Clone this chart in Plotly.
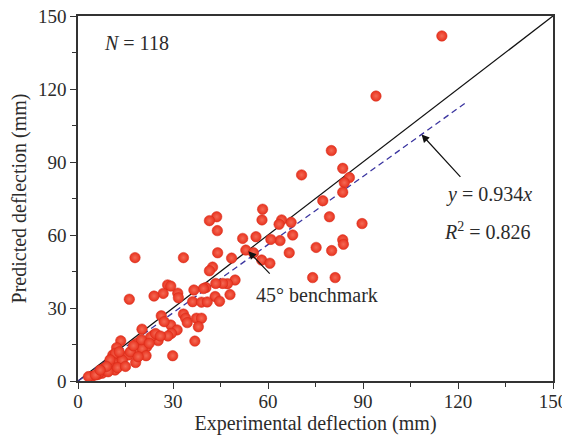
import plotly.graph_objects as go

# Experimental vs predicted deflection (mm)
exp_x = [114.9, 94.1, 80.0, 70.6, 83.6, 85.7, 84.1, 83.6, 77.3, 79.4, 89.7, 58.3, 58.1, 64.3, 63.5,
         67.3, 67.8, 63.8, 60.9, 56.2, 52.0, 66.7, 75.2, 80.1, 83.6, 83.8, 53.0, 55.4, 58.0, 60.6,
         48.5, 49.6, 74.1, 81.2, 43.8, 41.5, 44.0, 44.1, 33.3, 18.0, 42.5, 41.5, 47.2, 45.7, 43.5,
         48.0, 43.3, 44.7, 40.4, 39.6, 36.6, 36.2, 39.0, 40.8, 31.5, 31.7, 28.3, 29.3, 26.9, 24.0,
         16.2, 26.3, 33.3, 34.0, 34.5, 37.4, 39.0, 38.0, 36.9, 29.9, 29.3, 27.2, 31.3, 29.5, 28.4,
         25.3, 23.9, 22.9, 20.2, 21.7, 18.6, 19.8, 19.0, 20.3, 21.5, 18.2, 15.9, 13.5, 12.2, 11.0,
         11.8, 13.3, 11.2, 10.3, 11.7, 8.5, 7.6, 6.3, 4.3, 3.3, 8.0, 10.1, 6.7, 16.5, 14.0,
         5.5, 9.5, 12.5, 20.0, 17.5, 22.5, 9.0, 15.0, 24.5, 7.0, 26.0, 19.0, 13.0]
pred_y = [141.8, 117.1, 94.7, 84.7, 87.4, 83.6, 81.5, 77.6, 74.1, 67.5, 64.7, 70.6, 66.2, 66.2, 64.4,
          65.2, 60.0, 57.7, 58.2, 59.3, 58.6, 52.7, 54.9, 53.6, 58.0, 56.2, 53.8, 52.7, 49.7, 48.4,
          50.5, 41.5, 42.5, 42.5, 67.5, 65.9, 61.8, 52.7, 50.7, 50.7, 46.8, 45.3, 40.0, 40.1, 40.1,
          35.5, 34.7, 32.8, 38.4, 38.0, 37.4, 32.6, 32.4, 32.5, 36.1, 34.2, 39.5, 39.0, 36.0, 34.9,
          33.6, 26.8, 27.5, 25.8, 24.0, 25.8, 25.8, 22.3, 16.4, 10.4, 23.0, 24.4, 21.0, 19.6, 18.5,
          16.6, 18.9, 18.0, 21.3, 14.1, 15.5, 15.0, 12.8, 13.3, 10.4, 7.6, 10.7, 16.5, 13.7, 10.7,
          11.4, 7.7, 7.5, 6.6, 4.5, 4.5, 3.2, 2.7, 1.8, 1.8, 5.0, 8.7, 3.5, 12.0, 8.5,
          2.5, 3.8, 5.5, 17.0, 14.5, 15.5, 6.0, 6.0, 19.5, 4.5, 18.5, 10.0, 12.0]

benchmark_x = [0, 150]
fit_slope = 0.934
fit_r2 = 0.826
fit_x = [0, 122.5]
n_count = 118

axis_ticks = [0, 30, 60, 90, 120, 150]

FONT = "Liberation Serif"
TXT = "#2b2b2b"

fig = go.Figure()

fig.add_trace(go.Scatter(
    x=benchmark_x, y=benchmark_x, mode="lines",
    line=dict(color="#111111", width=1.3), hoverinfo="skip", showlegend=False))

fig.add_trace(go.Scatter(
    x=fit_x, y=[fit_slope * v for v in fit_x], mode="lines",
    line=dict(color="#3b35a0", width=1.3, dash="6px,4px"), hoverinfo="skip", showlegend=False))

fig.add_trace(go.Scatter(
    x=exp_x, y=pred_y, mode="markers",
    marker=dict(size=10.5, color="#e8321e",
                gradient=dict(type="radial", color="#f46a55"),
                line=dict(color="#d42a18", width=0.5)),
    showlegend=False))

axis_common = dict(
    range=[0, 150], tickvals=axis_ticks, ticks="outside", ticklen=6, tickwidth=1.3,
    tickcolor="#333333", showline=True, linecolor="#333333", linewidth=1.5, mirror=True,
    showgrid=False, zeroline=False, automargin=False, ticklabeloverflow="allow",
    minor=dict(dtick=15, tick0=0, ticks="outside", ticklen=4, tickwidth=1.1, tickcolor="#333333"),
    tickfont=dict(family=FONT, size=19, color=TXT),
)

fig.update_layout(
    width=562, height=427,
    margin=dict(l=70, r=17, t=8, b=54),
    paper_bgcolor="white", plot_bgcolor="white",
    xaxis=dict(**axis_common, ticklabelstandoff=-4,
               title=dict(text="Experimental deflection (mm)", font=dict(family=FONT, size=20, color=TXT),
                          standoff=10)),
    yaxis=dict(**axis_common,
               title=dict(text="Predicted deflection (mm)", font=dict(family=FONT, size=20, color=TXT),
                          standoff=8)),
    font=dict(family=FONT, color=TXT),
)

# N label
fig.add_annotation(x=7.5, y=139, xref="x", yref="y", text=f"<i>N</i> = {n_count}", showarrow=False,
                   xanchor="left", yanchor="middle", font=dict(family=FONT, size=20, color=TXT))

# 45 benchmark arrow and label
fig.add_annotation(x=53.8, y=53.3, ax=61.0, ay=43.5, xref="x", yref="y", axref="x", ayref="y",
                   text="", showarrow=True, arrowhead=2, arrowsize=1.3, arrowwidth=1.2, arrowcolor="#111111")
fig.add_annotation(x=55.5, y=35.5, xref="x", yref="y", text="45° benchmark", showarrow=False,
                   xanchor="left", yanchor="middle", font=dict(family=FONT, size=20, color=TXT))

# fit arrow and label
fig.add_annotation(x=108.5, y=101.3, ax=121.2, ay=83.3, xref="x", yref="y", axref="x", ayref="y",
                   text="", showarrow=True, arrowhead=2, arrowsize=1.3, arrowwidth=1.2, arrowcolor="#111111")
fig.add_annotation(x=115.5, y=76.5, xref="x", yref="y",
                   text=f"<i>y</i> = {fit_slope}<i>x</i>", showarrow=False,
                   xanchor="left", yanchor="middle", font=dict(family=FONT, size=20, color=TXT))
fig.add_annotation(x=115.0, y=61.5, xref="x", yref="y",
                   text=f"<i>R</i><sup>2</sup> = {fit_r2}", showarrow=False,
                   xanchor="left", yanchor="middle", font=dict(family=FONT, size=20, color=TXT))

fig.write_html("out.html")
